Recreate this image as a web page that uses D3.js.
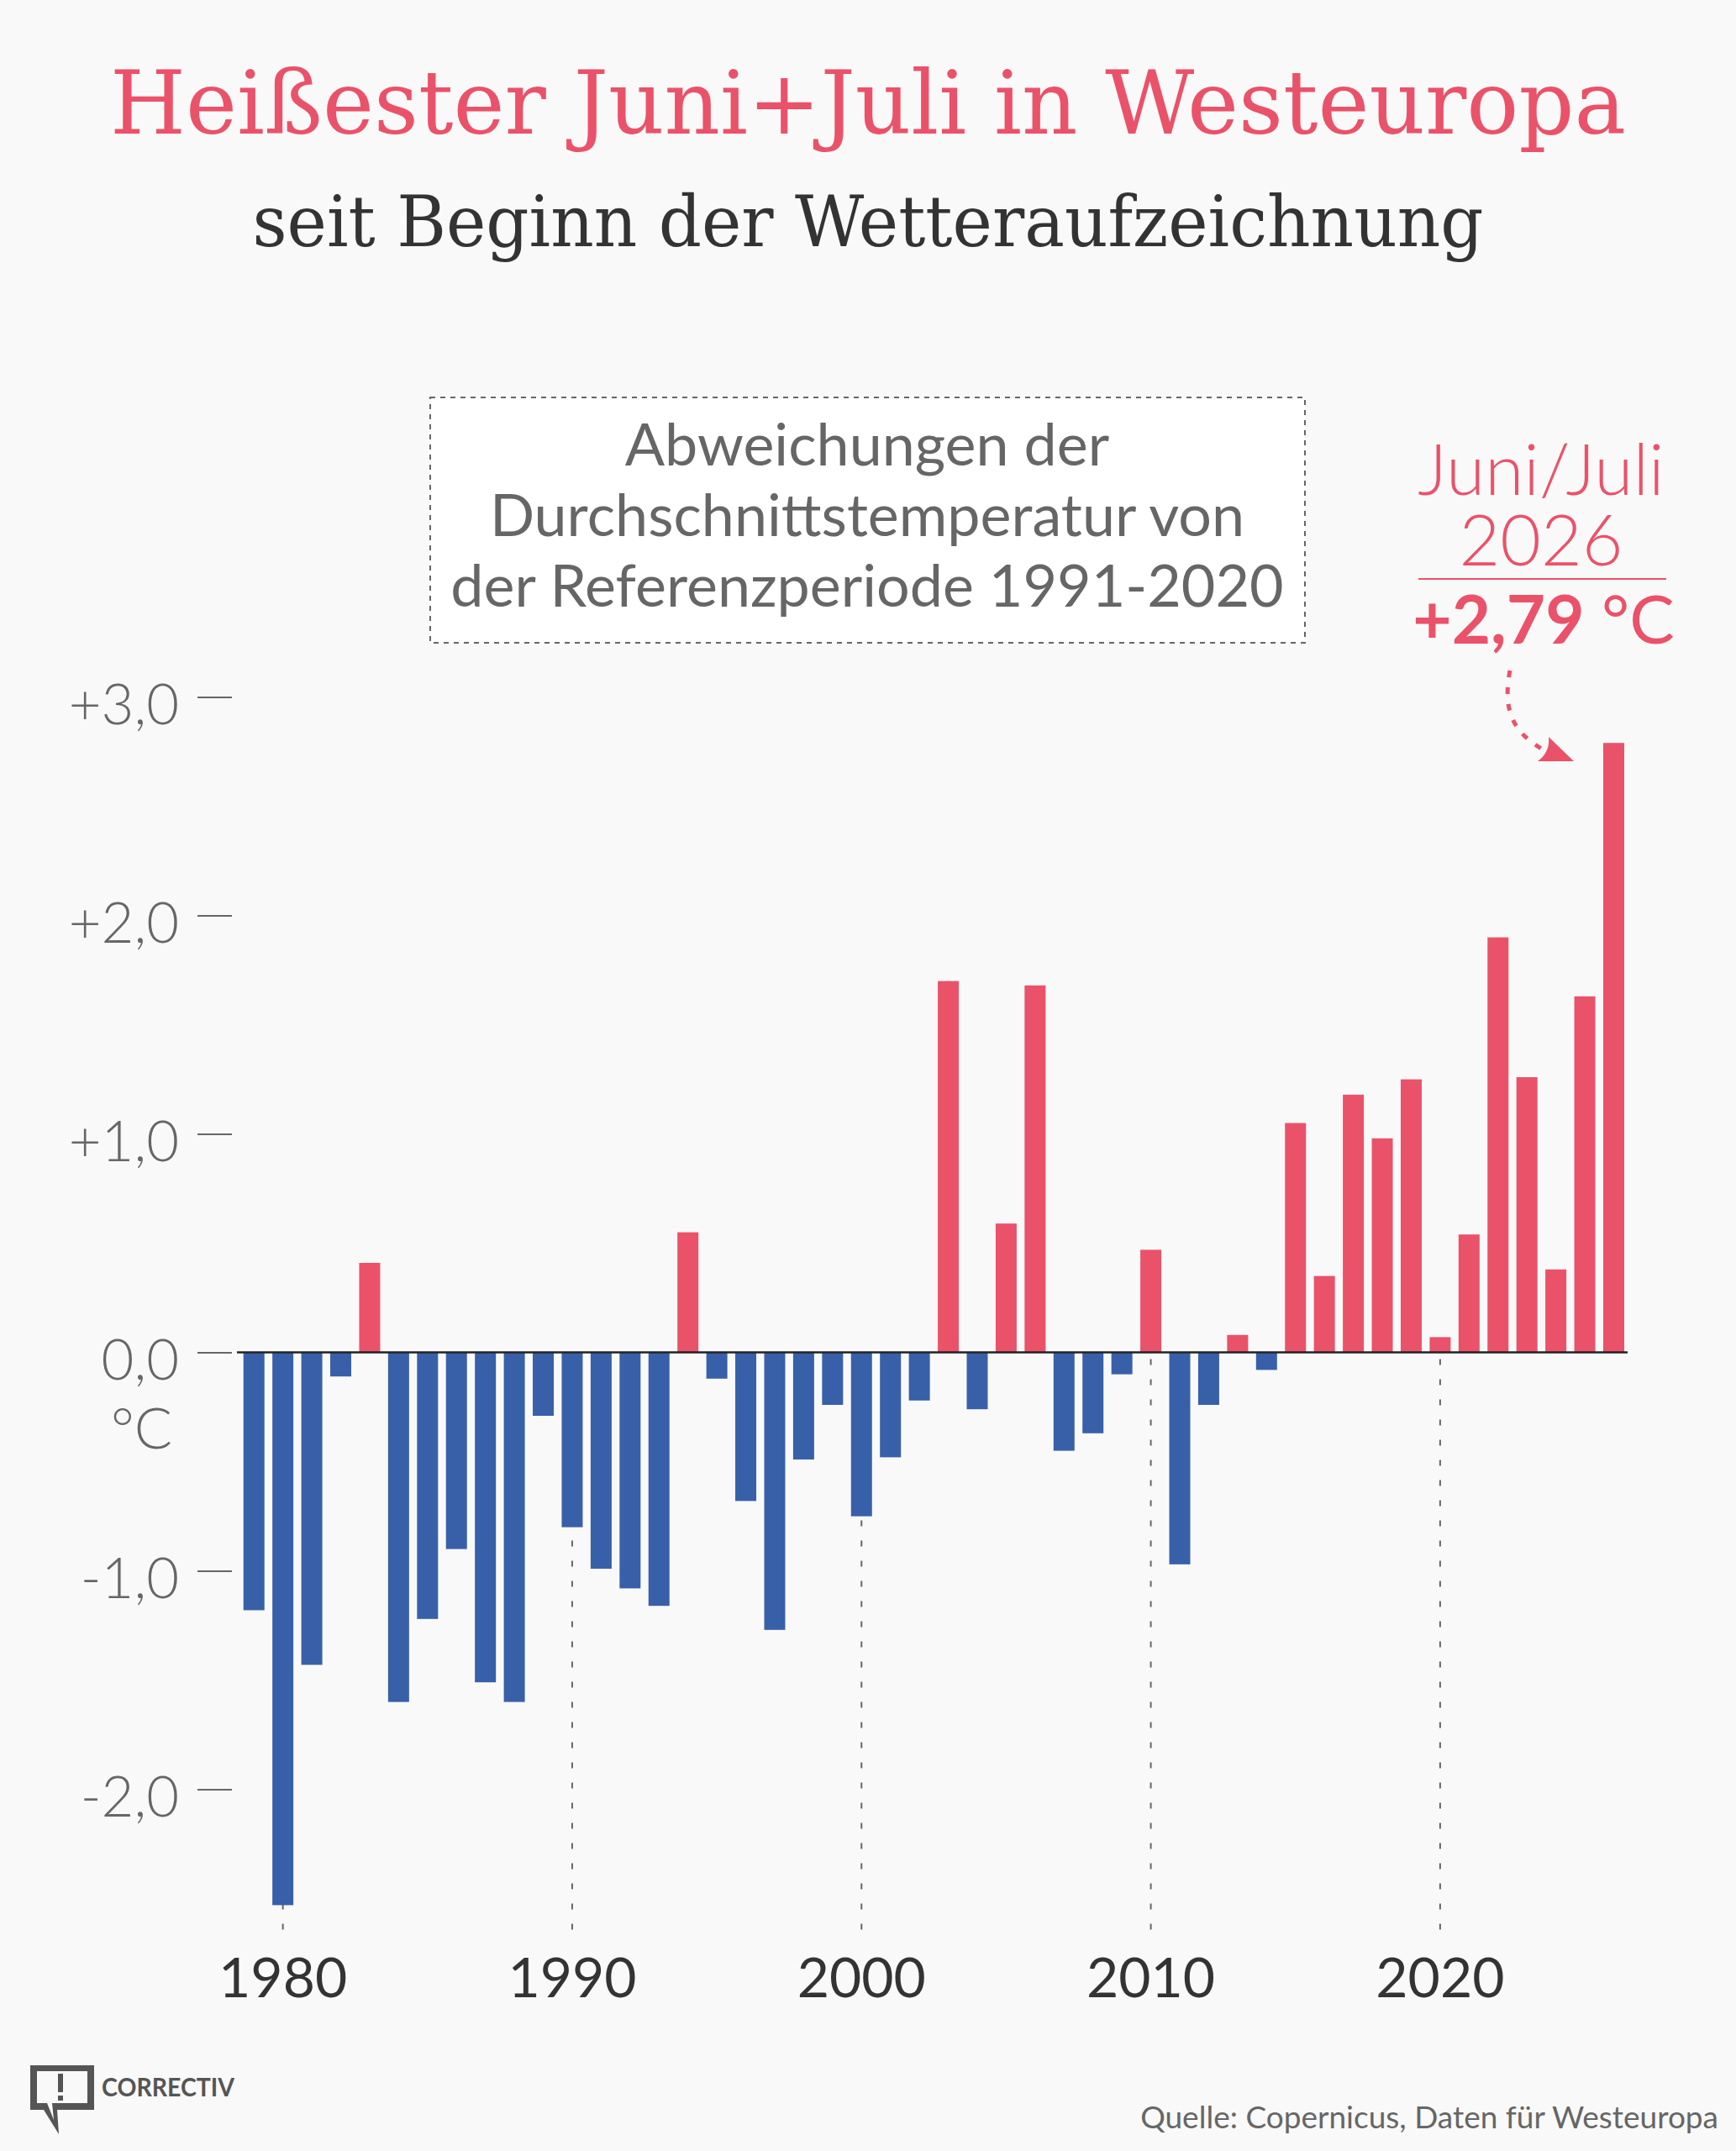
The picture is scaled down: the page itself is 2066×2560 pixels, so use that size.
<!DOCTYPE html>
<html>
<head>
<meta charset="utf-8">
<script src="https://cdn.jsdelivr.net/npm/d3@7"></script>
<style>
  body { margin: 0; background: #f9f9f9; }
  svg { display: block; }
</style>
</head>
<body>
<div id="chart"></div>
<script>
var WIDTH = 2066;
var HEIGHT = 2560;

// data: deviation from 1991-2020 mean, June+July, Western Europe
var years = [1979, 1980, 1981, 1982, 1983, 1984, 1985, 1986, 1987, 1988, 1989,
             1990, 1991, 1992, 1993, 1994, 1995, 1996, 1997, 1998, 1999,
             2000, 2001, 2002, 2003, 2004, 2005, 2006, 2007, 2008, 2009,
             2010, 2011, 2012, 2013, 2014, 2015, 2016, 2017, 2018, 2019,
             2020, 2021, 2022, 2023, 2024, 2025, 2026];
var anomalies = [-1.18, -2.53, -1.43, -0.11, 0.41, -1.60, -1.22, -0.90, -1.51, -1.60, -0.29,
                 -0.80, -0.99, -1.08, -1.16, 0.55, -0.12, -0.68, -1.27, -0.49, -0.24,
                 -0.75, -0.48, -0.22, 1.70, -0.26, 0.59, 1.68, -0.45, -0.37, -0.10,
                 0.47, -0.97, -0.24, 0.08, -0.08, 1.05, 0.35, 1.18, 0.98, 1.25,
                 0.07, 0.54, 1.90, 1.26, 0.38, 1.63, 2.79];
var yTicks = [-2, -1, 0, 1, 2, 3];
var decadeTicks = [1980, 1990, 2000, 2010, 2020];
var boxLines = ["Abweichungen der", "Durchschnittstemperatur von", "der Referenzperiode 1991-2020"];

var RED = "#ea5269";
var BLUE = "#3860a9";
var SANS = "Lato, 'Noto Sans', sans-serif";
var SERIF = "'DejaVu Serif', serif";

var svg = d3.select("#chart")
			.append("svg")
			.attr("width", WIDTH)
			.attr("height", HEIGHT);

svg.append("rect")
	.attr("width", WIDTH)
	.attr("height", HEIGHT)
	.attr("fill", "#f9f9f9");

// TITLE

svg.append("text")
	.attr("x", WIDTH / 2)
	.attr("y", 159)
	.attr("text-anchor", "middle")
	.attr("font-family", SERIF)
	.attr("font-size", "104px")
	.attr("fill", RED)
	.attr("textLength", 1804)
	.attr("lengthAdjust", "spacingAndGlyphs")
	.text("Heißester Juni+Juli in Westeuropa");

svg.append("text")
	.attr("x", WIDTH / 2)
	.attr("y", 293)
	.attr("text-anchor", "middle")
	.attr("font-family", SERIF)
	.attr("font-size", "84px")
	.attr("fill", "#333")
	.attr("textLength", 1465)
	.attr("lengthAdjust", "spacingAndGlyphs")
	.text("seit Beginn der Wetteraufzeichnung");

// SCALES

var x = d3.scaleBand()
		  .domain(years)
		  .range([285, 1937.7])
		  .paddingInner(0.274)
		  .paddingOuter(0.137);

var y = d3.scaleLinear()
		  .domain([0, 3])
		  .range([1609.6, 829.6]);

var xc = function(yr) { return x(yr) + x.bandwidth() / 2; };

// decade guide lines (behind the bars)
svg.append("g")
	.selectAll("line")
	.data(decadeTicks)
	.join("line")
	.attr("x1", xc)
	.attr("x2", xc)
	.attr("y1", y(0) + 8)
	.attr("y2", 2300)
	.attr("stroke", "#666")
	.attr("stroke-width", 2)
	.attr("stroke-dasharray", "7,17");

// BARS

var barData = years.map(function(yr, i) { return { year: yr, value: anomalies[i] }; });

svg.append("g")
	.selectAll("rect")
	.data(barData)
	.join("rect")
	.attr("x", function(d) { return x(d.year); })
	.attr("width", x.bandwidth())
	.attr("y", function(d) { return y(Math.max(0, d.value)); })
	.attr("height", function(d) { return Math.abs(y(d.value) - y(0)); })
	.attr("fill", function(d) { return d.value >= 0 ? RED : BLUE; });

// zero line
svg.append("line")
	.attr("x1", 282)
	.attr("x2", 1937)
	.attr("y1", y(0))
	.attr("y2", y(0))
	.attr("stroke", "#222")
	.attr("stroke-width", 2.5);

// Y AXIS

var fmtY = function(v) {
	var s = Math.abs(v).toFixed(1).replace(".", ",");
	if (v > 0) return "+" + s;
	if (v < 0) return "-" + s;
	return s;
};

var yAxis = svg.append("g")
				.attr("transform", "translate(276,0)")
				.call(d3.axisLeft(y).tickValues(yTicks).tickSize(41).tickPadding(22).tickFormat(fmtY));

yAxis.select(".domain").remove();
yAxis.selectAll(".tick line")
	.attr("stroke", "#666")
	.attr("stroke-width", 2);
yAxis.selectAll(".tick text")
	.attr("font-family", SANS)
	.attr("font-weight", 300)
	.attr("font-size", "67px")
	.attr("fill", "#666")
	.attr("dy", "0.47em");

svg.append("text")
	.attr("x", 205)
	.attr("y", 1724)
	.attr("text-anchor", "end")
	.attr("font-family", SANS)
	.attr("font-weight", 300)
	.attr("font-size", "67px")
	.attr("fill", "#666")
	.text("°C");

// X AXIS

var xAxis = svg.append("g")
				.attr("transform", "translate(0,2310)")
				.call(d3.axisBottom(x).tickValues(decadeTicks).tickSize(0).tickPadding(20));

xAxis.select(".domain").remove();
xAxis.selectAll(".tick text")
	.attr("font-family", SANS)
	.attr("font-size", "66px")
	.attr("fill", "#333");

// ANNOTATION BOX

svg.append("rect")
	.attr("x", 512)
	.attr("y", 473)
	.attr("width", 1041)
	.attr("height", 292)
	.attr("fill", "#fff")
	.attr("stroke", "#666")
	.attr("stroke-width", 2)
	.attr("stroke-dasharray", "6,6");

svg.append("g")
	.selectAll("text")
	.data(boxLines)
	.join("text")
	.attr("x", 1032)
	.attr("y", function(d, i) { return 554 + i * 84; })
	.attr("text-anchor", "middle")
	.attr("font-family", SANS)
	.attr("font-size", "70px")
	.attr("fill", "#666")
	.text(function(d) { return d; });

// 2026 ANNOTATION

var last = barData[barData.length - 1];

var headText = svg.append("text")
				.attr("text-anchor", "middle")
				.attr("font-family", SANS)
				.attr("font-weight", 300)
				.attr("font-size", "84px")
				.attr("fill", RED);
headText.append("tspan")
	.attr("x", 1834)
	.attr("y", 589)
	.text("Juni/Juli");
headText.append("tspan")
	.attr("x", 1834)
	.attr("y", 673)
	.text(last.year);

svg.append("line")
	.attr("x1", 1688)
	.attr("x2", 1983)
	.attr("y1", 689)
	.attr("y2", 689)
	.attr("stroke", RED)
	.attr("stroke-width", 2);

var valText = svg.append("text")
				.attr("x", 1837)
				.attr("y", 766)
				.attr("text-anchor", "middle")
				.attr("font-family", SANS)
				.attr("font-size", "80px")
				.attr("fill", RED);
valText.append("tspan")
	.attr("font-weight", 700)
	.text("+" + last.value.toFixed(2).replace(".", ","));
valText.append("tspan")
	.text(" °C");

// dotted arrow to the last bar
svg.append("path")
	.attr("d", "M1797,798 C1788,845 1800,872 1838,893")
	.attr("fill", "none")
	.attr("stroke", RED)
	.attr("stroke-width", 5)
	.attr("stroke-dasharray", "8,12");

svg.append("path")
	.attr("d", "M1843,877 L1873,906 L1830,906 Q1845,895 1843,877 Z")
	.attr("fill", RED);

// LOGO

var logo = svg.append("g").attr("fill", "#555");

logo.append("path")
	.attr("d", "M36,2458 H112 V2511 H68 L70,2540 L52,2511 H36 Z M44,2465 V2503 H56 L64,2523 L62,2503 H104 V2465 Z")
	.attr("fill-rule", "evenodd");
logo.append("rect")
	.attr("x", 69)
	.attr("y", 2468)
	.attr("width", 6)
	.attr("height", 22);
logo.append("rect")
	.attr("x", 69)
	.attr("y", 2494)
	.attr("width", 6)
	.attr("height", 6);
logo.append("text")
	.attr("x", 121)
	.attr("y", 2495)
	.attr("font-family", SANS)
	.attr("font-weight", 700)
	.attr("font-size", "31px")
	.attr("textLength", 158)
	.attr("lengthAdjust", "spacingAndGlyphs")
	.text("CORRECTIV");

// SOURCE

svg.append("text")
	.attr("x", 2045)
	.attr("y", 2533)
	.attr("text-anchor", "end")
	.attr("font-family", SANS)
	.attr("font-size", "37px")
	.attr("fill", "#666")
	.text("Quelle: Copernicus, Daten für Westeuropa");
</script>
</body>
</html>
